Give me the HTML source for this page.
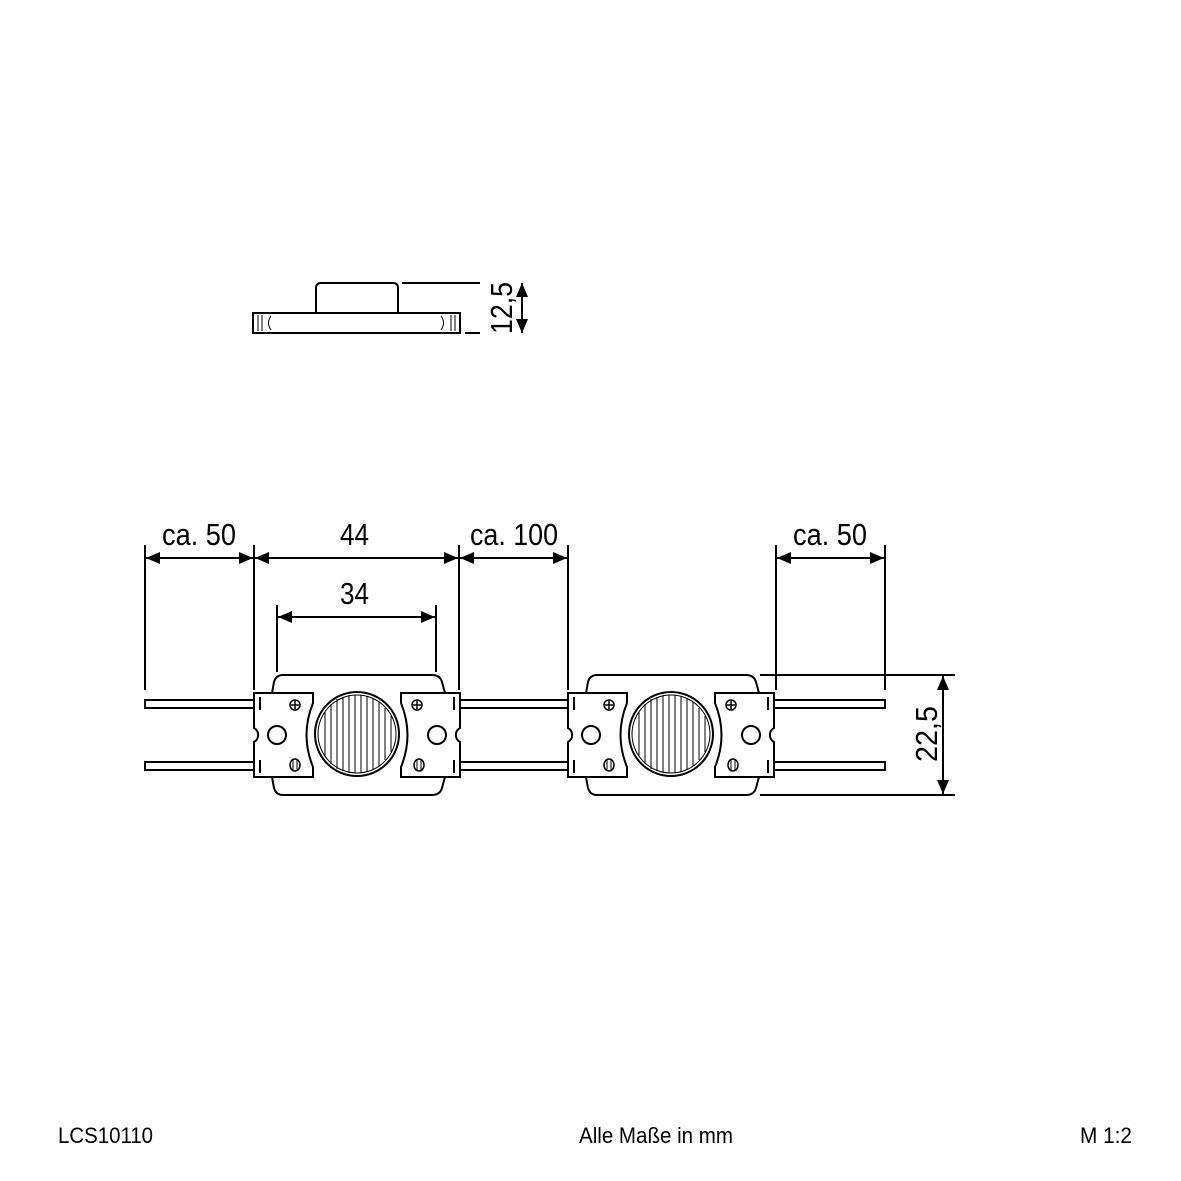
<!DOCTYPE html>
<html><head><meta charset="utf-8"><style>
html,body{margin:0;padding:0;background:#fff}
svg{display:block}
text{font-family:"Liberation Sans",sans-serif;fill:#000}
</style></head><body>
<svg width="1181" height="1181" viewBox="0 0 1181 1181" xmlns="http://www.w3.org/2000/svg">
<defs>
<marker id="a" viewBox="0 0 14 12" refX="14" refY="6" markerWidth="14" markerHeight="12" orient="auto-start-reverse" markerUnits="userSpaceOnUse"><path d="M0,0 L14,6 L0,12z" fill="#000"/></marker>
<g id="m" fill="none" stroke="#000" stroke-width="2">
 <path d="M272,693 L274,682 Q276,675 283,675 L432,675 Q440,675 442,682 L445,693 M272,777 L274,788 Q276,795 283,795 L432,795 Q440,795 442,788 L445,777"/>
 <path d="M254,693 L313,693 L313,703 Q300,735 313,767 L313,777 L254,777 L254,742 A8,8 0 0 0 254,728 Z" fill="#fff"/>
 <path d="M460,693 L401,693 L401,703 Q414,735 401,767 L401,777 L460,777 L460,742 A8,8 0 0 1 460,728 Z" fill="#fff"/>
 <line x1="260" y1="697" x2="260" y2="710"/><line x1="260" y1="760" x2="260" y2="773"/>
 <line x1="454" y1="697" x2="454" y2="710"/><line x1="454" y1="760" x2="454" y2="773"/>
 <circle cx="277" cy="735" r="9"/><circle cx="437" cy="735" r="9"/>
 <circle cx="295" cy="705" r="5" stroke-width="1.5"/><path d="M291,705h8M295,701v8" stroke-width="1.5"/>
 <circle cx="417" cy="705" r="5" stroke-width="1.5"/><path d="M413,705h8M417,701v8" stroke-width="1.5"/>
 <ellipse cx="295" cy="765" rx="5" ry="6" stroke-width="1.5"/><path d="M293,760v10M297,760v10" stroke-width="1"/>
 <ellipse cx="419" cy="765" rx="5" ry="6" stroke-width="1.5"/><path d="M417,760v10M421,760v10" stroke-width="1"/>
 <circle cx="357" cy="734" r="42"/>
 <circle cx="357" cy="734" r="39" stroke-width="1"/>
 <g stroke-width="1"><path d="M325,712v44M331,704v60M337,699v70M343,697v74M349,695v78M355,695v78M361,695v78M367,696v76M373,698v72M379,702v64M385,708v52M391,716v36"/></g>
</g>
</defs>

<g fill="none" stroke="#000" stroke-width="2">
 <path d="M316,313 L316,288 Q316,283 321,283 L393,283 Q398,283 398,288 L398,313"/>
 <rect x="253" y="313" width="207" height="20"/>
 <path d="M271,316 Q266,323 271,330 M441,316 Q446,323 441,330" stroke-width="1"/>
 <path d="M258,315v16M262,315v16M451,315v16M455,315v16" stroke-width="1"/>
 <line x1="402" y1="283" x2="480" y2="283"/>
 <line x1="465" y1="333" x2="480" y2="333"/>
 <line x1="522" y1="283" x2="522" y2="333" marker-start="url(#a)" marker-end="url(#a)"/>
</g>
<text transform="translate(512,308) rotate(-90)" font-size="31" text-anchor="middle" textLength="52" lengthAdjust="spacingAndGlyphs">12,5</text>

<g fill="#fff" stroke="#000" stroke-width="2">
 <rect x="145" y="700" width="109" height="8"/><rect x="145" y="762" width="109" height="8"/>
 <rect x="460" y="700" width="108" height="8"/><rect x="460" y="762" width="108" height="8"/>
 <rect x="774" y="700" width="111" height="8"/><rect x="774" y="762" width="111" height="8"/>
</g>
<use href="#m"/>
<use href="#m" transform="translate(314,0)"/>

<g stroke="#000" stroke-width="2" fill="none">
 <line x1="145" y1="545" x2="145" y2="690"/>
 <line x1="254" y1="545" x2="254" y2="690"/>
 <line x1="459" y1="545" x2="459" y2="690"/>
 <line x1="568" y1="545" x2="568" y2="690"/>
 <line x1="277" y1="605" x2="277" y2="672"/>
 <line x1="436" y1="605" x2="436" y2="672"/>
 <line x1="776" y1="545" x2="776" y2="690"/>
 <line x1="885" y1="545" x2="885" y2="690"/>
 <line x1="146" y1="558" x2="253" y2="558" marker-start="url(#a)" marker-end="url(#a)"/>
 <line x1="255" y1="558" x2="458" y2="558" marker-start="url(#a)" marker-end="url(#a)"/>
 <line x1="460" y1="558" x2="567" y2="558" marker-start="url(#a)" marker-end="url(#a)"/>
 <line x1="278" y1="617" x2="435" y2="617" marker-start="url(#a)" marker-end="url(#a)"/>
 <line x1="777" y1="558" x2="884" y2="558" marker-start="url(#a)" marker-end="url(#a)"/>
 <line x1="760" y1="675" x2="955" y2="675"/>
 <line x1="760" y1="795" x2="955" y2="795"/>
 <line x1="943" y1="676" x2="943" y2="794" marker-start="url(#a)" marker-end="url(#a)"/>
</g>
<g font-size="31" lengthAdjust="spacingAndGlyphs">
 <text x="162" y="545" textLength="74" lengthAdjust="spacingAndGlyphs">ca. 50</text>
 <text x="340" y="545" textLength="29" lengthAdjust="spacingAndGlyphs">44</text>
 <text x="470" y="545" textLength="88" lengthAdjust="spacingAndGlyphs">ca. 100</text>
 <text x="340" y="604" textLength="29" lengthAdjust="spacingAndGlyphs">34</text>
 <text x="793" y="545" textLength="74" lengthAdjust="spacingAndGlyphs">ca. 50</text>
 <text transform="translate(937,762) rotate(-90)" textLength="56" lengthAdjust="spacingAndGlyphs">22,5</text>
</g>
<g font-size="22">
 <text x="58" y="1143" textLength="95" lengthAdjust="spacingAndGlyphs">LCS10110</text>
 <text x="579" y="1143" textLength="154" lengthAdjust="spacingAndGlyphs">Alle Maße in mm</text>
 <text x="1080" y="1143" textLength="52" lengthAdjust="spacingAndGlyphs">M 1:2</text>
</g>
</svg>
</body></html>
